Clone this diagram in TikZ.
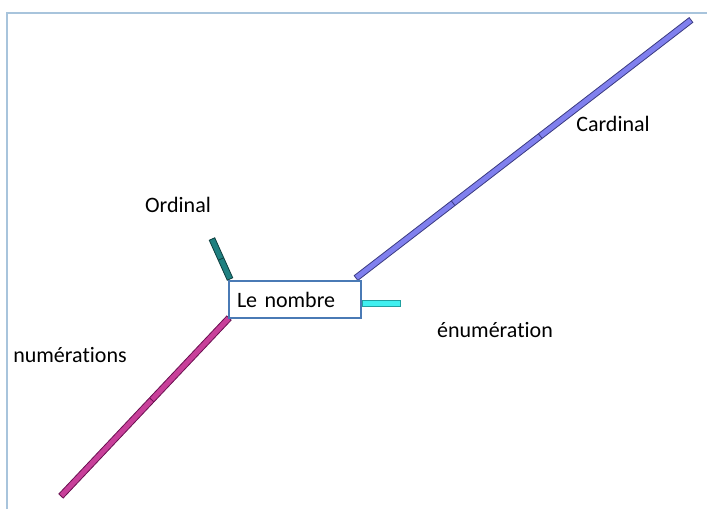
\documentclass[tikz,border=0pt]{standalone}
\usepackage{fontspec}
\setmainfont[Ligatures=NoCommon]{Carlito}
\usetikzlibrary{calc}
\definecolor{framec}{HTML}{A8C4DC}
\definecolor{boxc}{HTML}{4A7AB5}
\definecolor{cardf}{HTML}{8080EE}
\definecolor{cardd}{HTML}{3A3A80}
\definecolor{ordf}{HTML}{1F8080}
\definecolor{ordd}{HTML}{0F3F3F}
\definecolor{numf}{HTML}{C8409A}
\definecolor{numd}{HTML}{6A1050}
\definecolor{enuf}{HTML}{40F0F0}
\definecolor{enud}{HTML}{20A0A0}
\newcommand\branchbar[4]{% start, end, fill, draw
  \draw[fill=#3, draw=#4, line width=0.8pt]
    ($(#1)!3pt!90:(#2)$) -- ($(#2)!3pt!-90:(#1)$) -- ($(#2)!3pt!90:(#1)$) -- ($(#1)!3pt!-90:(#2)$) -- cycle;}
\newcommand\barmark[4]{% start, end, fraction, draw
  \draw[draw=#4, line width=0.8pt]
    ($($(#1)!#3!(#2)$)!3pt!90:(#2)$) -- ($($(#1)!#3!(#2)$)!3pt!-90:(#2)$);}
\tikzset{
  lbl/.style={font=\fontsize{22}{26}\selectfont, inner sep=0pt},
  mainbox/.style={draw=boxc, line width=2pt, fill=white, minimum width=132pt, minimum height=37pt,
    text width=116pt, inner xsep=8pt, align=left, font=\fontsize{22}{26}\selectfont}
}
\begin{document}
\begin{tikzpicture}[x=1pt,y=-1pt]
\useasboundingbox (0,0) rectangle (707,509);
\draw[framec, line width=1.2pt] (7,509) -- (7,13) -- (707,13);
% branch end points
\coordinate (cardE) at (691,20);
\coordinate (ordE) at (212,239);
\coordinate (numE) at (61,496);
\coordinate (cardS) at (356,278);
\coordinate (ordS) at (230,279);
\coordinate (numS) at (229,318);
% branches
\branchbar{cardS}{cardE}{cardf}{cardd}
\barmark{cardS}{cardE}{0.29}{cardd}
\barmark{cardS}{cardE}{0.55}{cardd}
\branchbar{ordS}{ordE}{ordf}{ordd}
\barmark{ordS}{ordE}{0.5}{ordd}
\branchbar{numS}{numE}{numf}{numd}
\barmark{numS}{numE}{0.46}{numd}
% main node
\node[mainbox] (nb) at (295,299.5) {Le nombre};
\coordinate (enuS) at ($(nb.east)+(0,4)$);
\coordinate (enuE) at ($(nb.east)+(38,4)$);
\branchbar{enuS}{enuE}{enuf}{enud}
% labels
\node[lbl] (ord) at (178,205) {Ordinal};
\node[lbl] (card) at (613,124) {Cardinal};
\node[lbl] (enu) at (495,330) {énumération};
\node[lbl] (num) at (70,355) {numérations};
\end{tikzpicture}
\end{document}
